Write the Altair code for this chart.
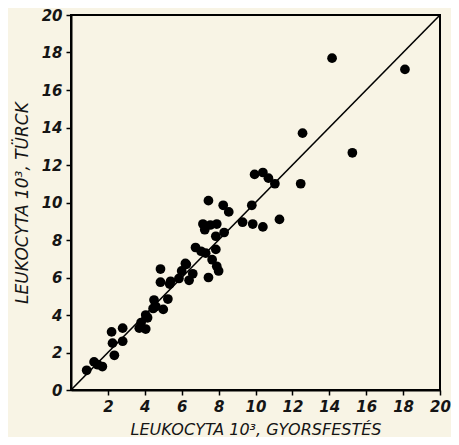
import altair as alt
import pandas as pd

# measured points (x: gyorsfestés, y: Türck), in 10^3
x_vals = [0.85, 1.25, 1.45, 1.7, 2.2, 2.25, 2.35, 2.8, 2.8, 3.7, 3.8, 4.05, 4.15,
          4.5, 4.45, 4.6, 5.0, 5.25, 4.85, 4.85, 5.35, 5.4, 5.85, 6.0, 6.25, 6.4,
          6.6, 6.75, 7.05, 7.3, 7.65, 7.45, 7.9, 8.0, 7.85, 7.15, 7.25, 7.55, 7.9,
          7.85, 8.3, 7.45, 8.25, 8.55, 9.3, 9.8, 9.85, 10.4, 11.3, 9.95, 10.4,
          10.7, 11.05, 12.45, 12.55, 15.25, 14.15, 18.1, 6.2, 4.05]
y_vals = [1.05, 1.5, 1.35, 1.25, 3.1, 2.5, 1.85, 3.3, 2.6, 3.3, 3.6, 3.25, 3.85,
          4.8, 4.35, 4.45, 4.3, 4.85, 6.45, 5.75, 5.65, 5.8, 5.95, 6.35, 6.7, 5.85,
          6.2, 7.6, 7.4, 7.3, 6.95, 6.0, 6.6, 6.35, 7.5, 8.85, 8.55, 8.8, 8.85,
          8.2, 8.4, 10.1, 9.85, 9.5, 8.95, 9.85, 8.85, 8.7, 9.1, 11.5, 11.6,
          11.3, 11.0, 11.0, 13.7, 12.65, 17.7, 17.1, 6.75, 4.0]

line_x = [0, 20]
line_y = [0, 20]
x_ticks = [2, 4, 6, 8, 10, 12, 14, 16, 18, 20]
y_ticks = [0, 2, 4, 6, 8, 10, 12, 14, 16, 18, 20]

df = pd.DataFrame({"x": x_vals, "y": y_vals})
diag = pd.DataFrame({"x": line_x, "y": line_y})

xscale = alt.Scale(domain=[0, 20], nice=False, zero=False)
yscale = alt.Scale(domain=[0, 20], nice=False, zero=False)

xaxis = alt.Axis(values=x_ticks, title="LEUKOCYTA 10³, GYORSFESTÉS",
                 labelOverlap=False, labelFlush=False, labelSeparation=0,
                 labelPadding=4, titlePadding=7, titleFontSize=16)
yaxis = alt.Axis(values=y_ticks, title="LEUKOCYTA 10³, TÜRCK",
                 labelOverlap=False, labelFlush=False, labelSeparation=0,
                 labelPadding=4, titlePadding=10, titleFontSize=17)

line = alt.Chart(diag).mark_line(color="black", strokeWidth=1.6).encode(
    x=alt.X("x:Q", scale=xscale, axis=xaxis),
    y=alt.Y("y:Q", scale=yscale, axis=yaxis),
)
points = alt.Chart(df).mark_circle(size=95, color="black", opacity=1).encode(
    x=alt.X("x:Q", scale=xscale, axis=xaxis),
    y=alt.Y("y:Q", scale=yscale, axis=yaxis),
)

chart = (line + points).properties(
    width=369, height=375,
    background="#f8f4e5",
    padding={"left": 63, "top": 7, "right": 11, "bottom": 47},
    autosize=alt.AutoSizeParams(type="none"),
).configure_view(
    stroke="black", strokeWidth=2
).configure_axis(
    grid=False,
    labelOverlap=False,
    domainColor="black", domainWidth=2,
    tickColor="black", tickWidth=1.5, tickSize=5,
    labelFont="DejaVu Sans", labelFontStyle="italic", labelFontWeight="bold",
    labelFontSize=15, labelColor="#151515",
    titleFont="DejaVu Sans", titleFontStyle="italic", titleFontWeight="normal",
    titleColor="#151515",
).configure_axisY(labelOverlap=False)

chart.save("out.html", embed_options={"renderer": "svg", "actions": False})
